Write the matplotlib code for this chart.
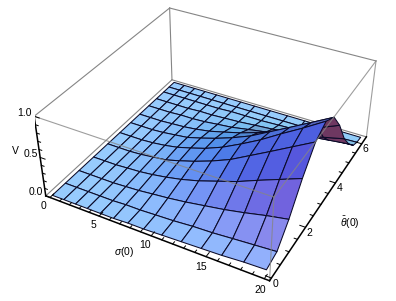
import numpy as np
import matplotlib
matplotlib.use('Agg')
import matplotlib.pyplot as plt
from mpl_toolkits.mplot3d import proj3d

plt.rcParams['font.family'] = 'Liberation Sans'
plt.rcParams['mathtext.fontset'] = 'custom'
plt.rcParams['mathtext.it'] = 'Liberation Sans:italic'
plt.rcParams['mathtext.rm'] = 'Liberation Sans'

# mesh lines are not evenly spaced in the picture
sigma = np.array([0, 1.2, 2.4, 3.6, 4.9, 6.2, 7.6, 9.1, 10.8, 12.6, 14.4, 16.2, 18.1, 20])
theta = np.array([0, .57, 1.19, 1.88, 2.58, 3.2, 3.77, 4.27, 4.78, 5.22, 5.65, 5.97, 6.28])
# V, one row per theta mesh line
V = np.array([
    [0, 0, 0, 0, 0, 0, .01, .01, .02, .03, .04, .05, .07, .08],
    [0, 0, 0, 0, 0, .01, .01, .02, .03, .05, .06, .08, .10, .12],
    [0, 0, 0, 0, .01, .02, .04, .06, .09, .13, .17, .22, .28, .33],
    [0, 0, 0, .01, .02, .04, .07, .11, .17, .25, .33, .43, .53, .63],
    [0, 0, 0, .01, .03, .05, .10, .16, .24, .34, .47, .60, .74, .88],
    [0, 0, 0, .01, .03, .06, .11, .17, .26, .38, .51, .66, .81, .97],
    [0, 0, 0, .01, .03, .05, .10, .16, .24, .34, .47, .60, .74, .88],
    [0, 0, 0, .01, .02, .04, .07, .12, .18, .26, .35, .45, .55, .66],
    [0, 0, 0, .01, .01, .02, .04, .06, .10, .14, .19, .24, .30, .36],
    [0, 0, 0, 0, .01, .01, .02, .03, .05, .07, .10, .12, .15, .18],
    [0, 0, 0, 0, 0, 0, .01, .01, .01, .02, .03, .03, .04, .05],
    [0, 0, 0, 0, 0, 0, 0, 0, 0, 0, 0, 0, 0, .01],
    [0, 0, 0, 0, 0, 0, 0, 0, 0, 0, 0, 0, 0, 0],
])

sigma_ticks = [0, 5, 10, 15, 20]
theta_ticks = [0, 2, 4, 6]
v_ticks = [0.0, 0.5, 1.0]

x0, x1 = -0.44, 20.44
y0, y1 = -0.1, 6.38
z0, z1 = 0, 1
elev, azim, focal = 35.28, -61.64, 0.459
aspect = (0.998, 1, 0.390)

fig = plt.figure(figsize=(3.96, 3.01), dpi=100, facecolor='white')
ax = fig.add_subplot(projection='3d', computed_zorder=False)
# numbers fitted against the box corners of the reference
side = 347.15
ax.set_position([35.1 / 396, -4.65 / 301, side / 396, side / 301])
ax.view_init(elev, azim)
ax.set_proj_type('persp', focal_length=focal)
ax.set_box_aspect(aspect)
ax.set_axis_off()
ax.set_xlim(x0, x1)
ax.set_ylim(y0, y1)
ax.set_zlim(z0, z1)

# lighting like Mathematica: coloured lights fixed to the viewer
S, T = np.meshgrid(sigma, theta)
dv_ds = np.gradient(V, sigma / (x1 - x0) * aspect[0], axis=1) * aspect[2]
dv_dt = np.gradient(V, theta / (y1 - y0) * aspect[1], axis=0) * aspect[2]
n = np.dstack([-dv_ds, -dv_dt, np.ones_like(V)])
n /= np.linalg.norm(n, axis=2, keepdims=True)
el, az = np.radians(elev), np.radians(azim)
right = np.array([-np.sin(az), np.cos(az), 0])
up = np.array([-np.sin(el) * np.cos(az), -np.sin(el) * np.sin(az), np.cos(el)])
back = np.array([np.cos(el) * np.cos(az), np.cos(el) * np.sin(az), np.sin(el)])
nv = np.dstack([n @ right, n @ up, n @ back])
# cell colour from the mean normal of its corners
nc = (nv[:-1, :-1] + nv[1:, :-1] + nv[:-1, 1:] + nv[1:, 1:]) / 4
nc /= np.linalg.norm(nc, axis=2, keepdims=True)
red = np.clip(nc @ (np.array([1, 0, 1]) / np.sqrt(2)), 0, 1)
green = np.clip(nc @ (np.array([1, 1, 1]) / np.sqrt(3)), 0, 1)
blue = np.clip(nc @ (np.array([0, 1, 1]) / np.sqrt(2)), 0, 1)
rgb = np.ones(V.shape + (4,))
rgb[:-1, :-1, 0] = np.clip(0.30 + 0.72 * red, 0, 1)
rgb[:-1, :-1, 1] = np.clip(0.08 + 0.89 * green, 0, 1)
rgb[:-1, :-1, 2] = np.clip(0.38 + 0.62 * blue, 0, 1)
# only the steep side of the peak turned away from the light goes maroon
slope = (dv_dt[:-1, :-1] + dv_dt[1:, :-1] + dv_dt[:-1, 1:] + dv_dt[1:, 1:]) / 4
w = np.clip((-slope - 0.3) / 0.4, 0, 1)[..., None]
rgb[:-1, :-1, :3] = (1 - w) * rgb[:-1, :-1, :3] + w * np.array([0.43, 0.22, 0.38])

grey = '#858585'
# edges behind the surface
for xs, ys, zs in [([x0, x1], [y1, y1], [z1, z1]),
                   ([x0, x0], [y0, y1], [z1, z1]),
                   ([x0, x0], [y1, y1], [z0, z1]),
                   ([x0, x1], [y1, y1], [z0, z0]),
                   ([x0, x0], [y0, y1], [z0, z0])]:
    ax.plot(xs, ys, zs, color=grey, lw=0.8, zorder=1)

ax.plot_surface(S, T, V, facecolors=rgb, rstride=1, cstride=1, shade=False,
                edgecolor='#0a0a28', linewidth=0.75, antialiased=True, zorder=2)

# edges in front of it
for xs, ys, zs in [([x0, x1], [y0, y0], [z1, z1]),
                   ([x1, x1], [y0, y1], [z1, z1]),
                   ([x1, x1], [y0, y0], [z0, z1]),
                   ([x1, x1], [y1, y1], [z0, z1])]:
    ax.plot(xs, ys, zs, color=grey, lw=0.8, alpha=0.8, zorder=3)

# the three axes with ticks
ax.plot([x0, x1], [y0, y0], [z0, z0], color='k', lw=1.1, zorder=4)
ax.plot([x1, x1], [y0, y1], [z0, z0], color='k', lw=1.1, zorder=4)
ax.plot([x0, x0], [y0, y0], [z0, z1], color='k', lw=1.1, zorder=4)

for s in np.arange(0, 21):
    ln = 0.16 if s % 5 == 0 else 0.09
    ax.plot([s, s], [y0, y0 + ln], [z0, z0], color='k', lw=0.7, zorder=4)
for t in np.arange(0, 6.3, 0.5):
    ln = 0.5 if t % 2 == 0 else 0.28
    ax.plot([x1, x1 - ln], [t, t], [z0, z0], color='k', lw=0.7, zorder=4)
for v in np.arange(0, 1.01, 0.1):
    ln = 0.5 if round(v * 10) % 5 == 0 else 0.28
    ax.plot([x0, x0 + ln], [y0, y0], [v, v], color='k', lw=0.7, zorder=4)


def label(x, y, z, txt):
    # plain 2D text at the projected spot
    px, py, _ = proj3d.proj_transform(x, y, z, ax.get_proj())
    ax.text2D(px, py, txt, transform=ax.transData, fontsize=fs,
              ha='center', va='center', zorder=5)


fs = 7.5
for s in sigma_ticks:
    label(s + 0.2, y0 - 0.36, z0, str(s))
for t in theta_ticks:
    label(x1 + 0.4, t, z0 - 0.05, str(t))
for v in v_ticks:
    label(x0 - 1.0, y0, v, f'{v:.1f}')

fig.text(15 / 396, 1 - 151 / 301, 'V', fontsize=fs, ha='center', va='center')
fig.text(124 / 396, 1 - 252 / 301, r'$\sigma$(0)', fontsize=fs, ha='center', va='center')
fig.text(350 / 396, 1 - 223 / 301, r'$\bar{\theta}$(0)', fontsize=fs, ha='center', va='center')

fig.savefig('out.png', dpi=100)
